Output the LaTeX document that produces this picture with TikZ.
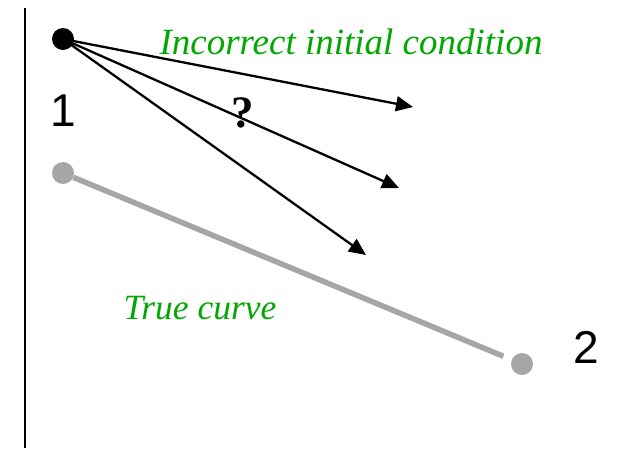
\documentclass[tikz,border=0pt]{standalone}
\usepackage{fontspec}
\setmainfont{Liberation Serif}
\newfontfamily\digitfont{Liberation Sans}
\definecolor{curvegreen}{HTML}{00A800}
\definecolor{curvegray}{HTML}{A6A6A6}
\usepackage{tikz}
\usetikzlibrary{arrows.meta}

\begin{document}
\begin{tikzpicture}[x=1pt, y=-1pt,
				blackdot/.style={circle, fill=black, inner sep=0pt, minimum size=22pt},
				graydot/.style={circle, fill=curvegray, inner sep=0pt, minimum size=22pt},
				shot/.style={line width=2.3pt, -{Triangle[length=17pt, width=15pt]}},
				greenlabel/.style={text=curvegreen, inner sep=0pt, anchor=base, font=\itshape},
				numlabel/.style={inner sep=0pt, anchor=base, font=\digitfont\fontsize{46}{50}\selectfont}
			]
			\useasboundingbox (0,0) rectangle (630,448);
			% Axis
			\coordinate (axtop) at (25,8);
			\coordinate (axbot) at (25,448);
			\draw[line width=2.6pt] (axtop) -- (axbot);
			% True curve
			\node[graydot] (start) at (63,173) {};
			\node[graydot] (finish) at (522,364) {};
			\draw[curvegray, line width=5.5pt, shorten >=9pt] (start) -- (finish);
			% Shots from the wrong start
			\node[blackdot] (guess) at (63,39) {};
			\foreach \n/\x/\y in {a/413/107, b/399/188, c/366/255} {
					\coordinate (tip\n) at (\x,\y);
					\draw[shot] (guess.center) -- (tip\n);
				}
			% Labels
			\node[numlabel] (one) at (63,126) {1};
			\node[numlabel] (two) at (586,363) {2};
			\node[inner sep=0pt, anchor=base, font=\bfseries\fontsize{45}{50}\selectfont] (ask) at (243,127) {?};
			\node[greenlabel, font=\itshape\fontsize{37}{42}\selectfont] (wrong) at (351,54) {Incorrect initial condition};
			\node[greenlabel, font=\itshape\fontsize{35.5}{40}\selectfont] (truth) at (200,319) {True curve};
		\end{tikzpicture}
\end{document}
